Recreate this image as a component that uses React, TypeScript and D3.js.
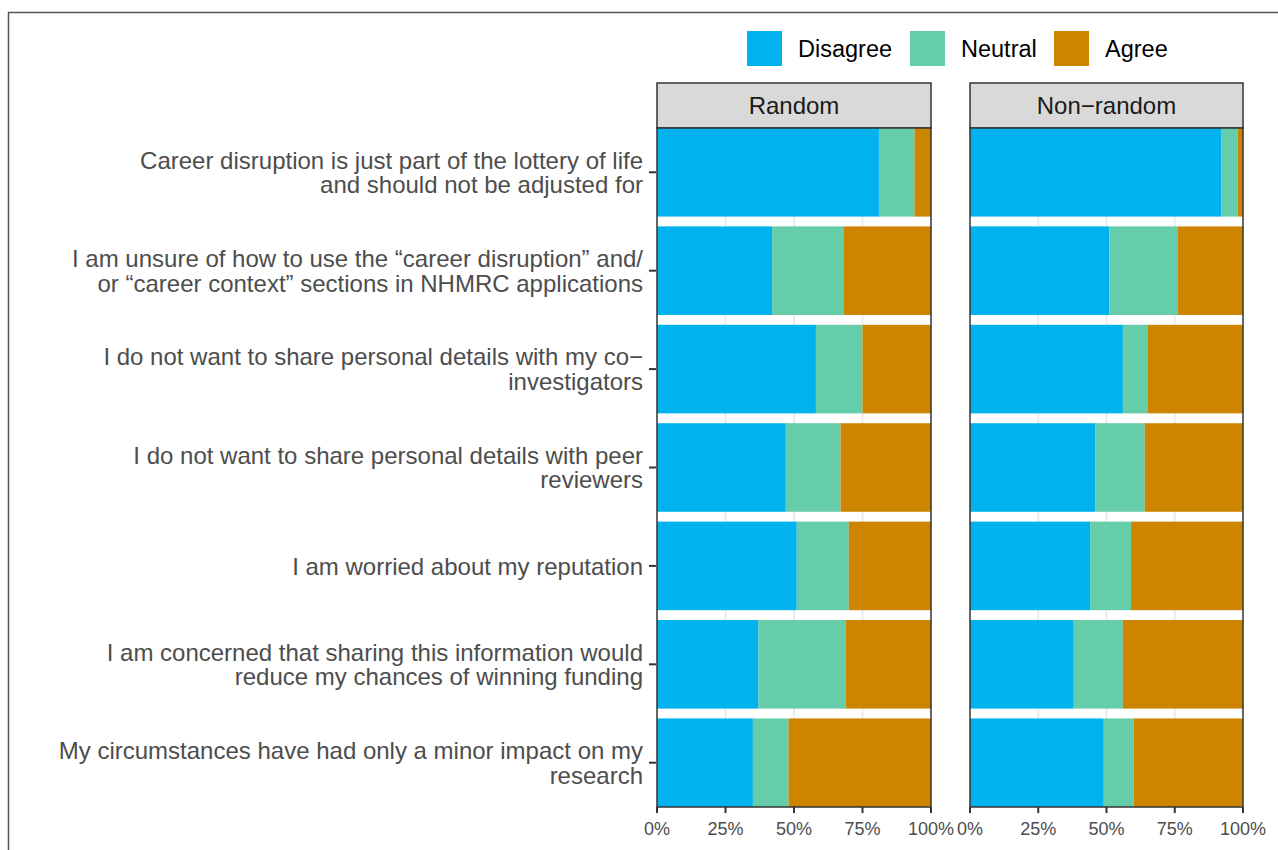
import React from 'react';
import * as d3 from 'd3';

// statements (top to bottom), each split into display lines
const statements = [
  ['Career disruption is just part of the lottery of life', 'and should not be adjusted for'],
  ['I am unsure of how to use the \u201ccareer disruption\u201d and/', 'or \u201ccareer context\u201d sections in NHMRC applications'],
  ['I do not want to share personal details with my co\u2212', 'investigators'],
  ['I do not want to share personal details with peer', 'reviewers'],
  ['I am worried about my reputation'],
  ['I am concerned that sharing this information would', 'reduce my chances of winning funding'],
  ['My circumstances have had only a minor impact on my', 'research'],
];

const responses = ['Disagree', 'Neutral', 'Agree'];
const panels = ['Random', 'Non\u2212random'];

// percent per statement: [disagree, neutral, agree]
const randomValues = [
  [81, 13, 6],
  [42, 26, 32],
  [58, 17, 25],
  [47, 20, 33],
  [51, 19, 30],
  [37, 32, 31],
  [35, 13, 52],
];
const nonRandomValues = [
  [92, 6, 2],
  [51, 25, 24],
  [56, 9, 35],
  [46, 18, 36],
  [44, 15, 41],
  [38, 18, 44],
  [49, 11, 40],
];

const xTicks = [0, 0.25, 0.5, 0.75, 1];

const colors = ['#00B2EE', '#66CDAA', '#CD8500'];
const font = '"Liberation Sans", Arial, Helvetica, sans-serif';

const panelTop = 128;
const panelBottom = 807;
const panelX = [[657, 931], [970, 1243]];
const stripTop = 83;

export default function App() {
  const color = d3.scaleOrdinal<string, string>().domain(responses).range(colors);
  const y = d3
    .scaleBand<number>()
    .domain(d3.range(statements.length))
    .range([panelTop, panelBottom])
    .paddingInner(0.1)
    .paddingOuter(0);

  const data = [randomValues, nonRandomValues];

  return (
    <svg
      width={1278}
      height={850}
      style={{ position: 'absolute', left: 0, top: 0, background: '#fff' }}
      fontFamily={font}
    >
      <rect x={8.5} y={12.5} width={1300} height={900} fill="none" stroke="#555" strokeWidth={1.5} />

      {/* legend */}
      {responses.map((r, i) => {
        const keyX = [747, 910, 1054][i];
        return (
          <g key={r}>
            <rect x={keyX} y={31} width={35} height={35} fill={color(r)} />
            <text x={keyX + 51} y={56.5} fontSize={23.5} fill="#000">
              {r}
            </text>
          </g>
        );
      })}

      {/* y axis labels */}
      {statements.map((lines, i) => {
        const cy = (y(i) ?? 0) + y.bandwidth() / 2;
        const lh = 24.5;
        const start = cy - ((lines.length - 1) * lh) / 2;
        return (
          <g key={i}>
            <line x1={649} x2={656} y1={cy} y2={cy} stroke="#333" strokeWidth={2} />
            {lines.map((l, j) => (
              <text
                key={j}
                x={643}
                y={start + j * lh}
                dy="0.36em"
                textAnchor="end"
                fontSize={24}
                fill="#4D4D4D"
              >
                {l}
              </text>
            ))}
          </g>
        );
      })}

      {panels.map((p, pi) => {
        const [x0, x1] = panelX[pi];
        const x = d3.scaleLinear().domain([0, 1]).range([x0, x1]);
        const rows = data[pi];
        return (
          <g key={p}>
            {/* strip */}
            <rect x={x0} y={stripTop} width={x1 - x0} height={panelTop - stripTop} fill="#D9D9D9" stroke="#333" strokeWidth={1.5} />
            <text x={(x0 + x1) / 2} y={(stripTop + panelTop) / 2} dy="0.36em" textAnchor="middle" fontSize={24} fill="#1A1A1A">
              {p}
            </text>
            {/* grid */}
            {xTicks.slice(1, -1).map((t) => (
              <line key={t} x1={x(t)} x2={x(t)} y1={panelTop} y2={panelBottom} stroke="#EBEBEB" strokeWidth={2} />
            ))}
            {/* bars */}
            {rows.map((vals, ri) => {
              const total = d3.sum(vals);
              const cum = d3.cumsum(vals);
              return vals.map((v, k) => {
                const start = (cum[k] - v) / total;
                const end = cum[k] / total;
                return (
                  <rect
                    key={`${ri}-${k}`}
                    x={x(start)}
                    y={y(ri)}
                    width={x(end) - x(start)}
                    height={y.bandwidth()}
                    fill={color(responses[k])}
                  />
                );
              });
            })}
            <rect x={x0} y={panelTop} width={x1 - x0} height={panelBottom - panelTop} fill="none" stroke="#333" strokeWidth={1.5} />
            {/* x axis */}
            {xTicks.map((t) => (
              <g key={t}>
                <line x1={x(t)} x2={x(t)} y1={panelBottom} y2={panelBottom + 6} stroke="#333" strokeWidth={2} />
                <text x={x(t)} y={835} textAnchor="middle" fontSize={18} fill="#4D4D4D">
                  {d3.format('.0%')(t)}
                </text>
              </g>
            ))}
          </g>
        );
      })}
    </svg>
  );
}
